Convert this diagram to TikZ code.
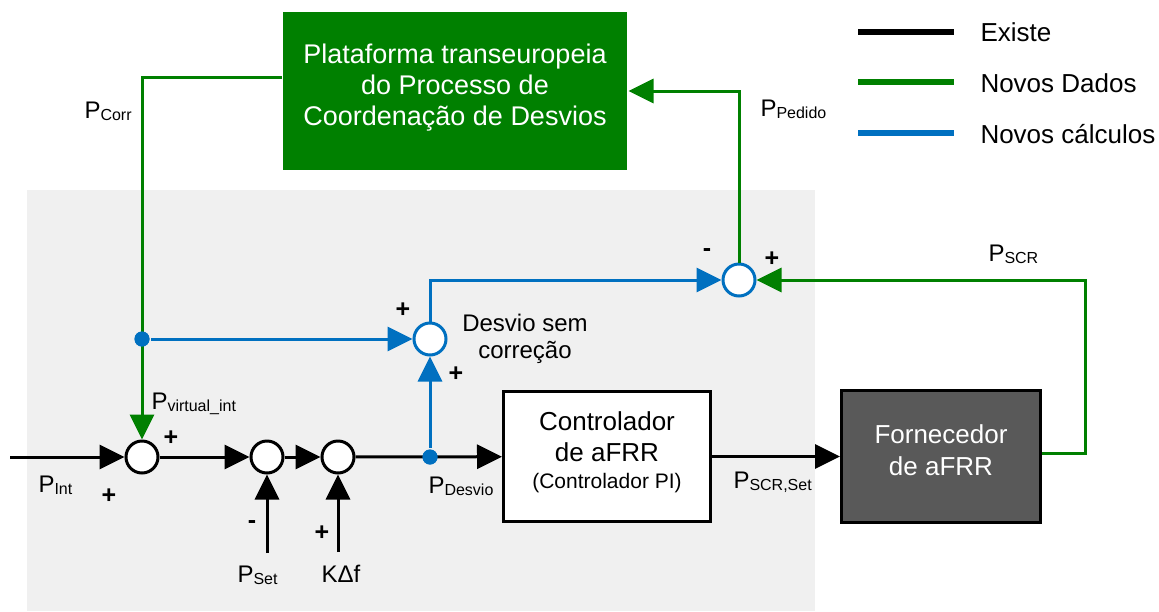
\documentclass[tikz,border=0pt]{standalone}
\usepackage{fontspec}
\setmainfont{Liberation Sans}
\usetikzlibrary{arrows.meta}
\definecolor{dgreen}{RGB}{0,128,0}
\definecolor{dblue}{RGB}{0,112,192}
\definecolor{bggray}{RGB}{240,240,240}
\definecolor{boxgray}{RGB}{89,89,89}
\newcommand\Plab[1]{P\raisebox{-2pt}{\fontsize{16}{16}\selectfont #1}}
\begin{document}
\begin{tikzpicture}[x=1pt,y=-1pt,
  line width=3pt,
  tip/.style={-{Triangle[length=25pt,width=24pt]}},
  sumblk/.style={circle,draw,fill=white,minimum size=32pt,inner sep=0pt,line width=3pt},
  lbl/.style={font=\fontsize{24}{24}\selectfont,inner sep=0pt,anchor=base west},
  sign/.style={font=\bfseries\fontsize{25}{25}\selectfont,inner sep=0pt},
  jdot/.style={circle,fill=dblue,minimum size=15pt,inner sep=0pt},
  legtxt/.style={font=\fontsize{26}{26}\selectfont,inner sep=0pt,anchor=base west},
  blk/.style={draw,line width=3pt,inner sep=0pt}
]
\useasboundingbox (0,0) rectangle (1159,611);
\fill[bggray] (27,190) rectangle (815,611);

% top green box
\node[fill=dgreen,minimum width=344pt,minimum height=158pt,inner sep=0pt] (plat) at (455,91) {};
\node[text=white,align=center,font=\fontsize{27}{31}\selectfont] (plattxt) at (455,88)
  {Plataforma transeuropeia\\do Processo de\\Coordenação de Desvios};

% blocks
\node[blk,fill=white,minimum width=207pt,minimum height=130pt] (ctrl) at (607,456.5) {};
\node[align=center,inner sep=0pt,font=\fontsize{26}{31}\selectfont] (ctrltxt) at (607,452)
  {Controlador\\de aFRR\\[-4pt]{\fontsize{21}{21}\selectfont (Controlador PI)}};
\node[blk,fill=boxgray,minimum width=199pt,minimum height=132pt] (forn) at (941,456.5) {};
\node[align=center,text=white,font=\fontsize{26}{32}\selectfont,inner sep=0pt] (forntxt) at (941,450)
  {Fornecedor\\de aFRR};

% summing junctions
\node[sumblk] (sum1) at (142,457) {};
\node[sumblk] (s2) at (267,457) {};
\node[sumblk] (s3) at (338,457) {};
\node[sumblk,draw=dblue] (sumD) at (430,339) {};
\node[sumblk,draw=dblue] (sumP) at (739,280) {};

% coordinates
\coordinate (in) at (10,457);
\coordinate (pset) at (267,553);
\coordinate (kdf) at (338,552);
\coordinate (rc) at (1085,280);

% black paths
\draw[tip] (in) -- (sum1);
\draw[tip] (sum1) -- (s2);
\draw[tip] (s2) -- (s3);
\draw[tip] (s3) -- (ctrl);
\draw[tip] (ctrl) -- (forn);
\draw[tip] (pset) -- (s2);
\draw[tip] (kdf) -- (s3);

% green paths
\draw[dgreen,tip] ([yshift=14pt]plat.west) -| (sum1);
\draw[dgreen,tip] ([yshift=3pt]forn.east) -| (rc) -- (sumP);
\draw[dgreen,tip] (sumP) |- (plat.east);

% blue paths
\node[jdot] (pc) at (142,339) {};
\node[jdot] (pd) at (430,457) {};
\draw[dblue,tip] (pc) -- (sumD);
\draw[dblue,tip] (pd) -- (sumD);
\draw[dblue,tip] (sumD) |- (sumP);
\node[jdot] at (142,339) {};
\node[jdot] at (430,457) {};

% labels
\node[lbl] (lcorr) at (83,118) {\Plab{Corr}};
\node[lbl] (lint) at (37,492) {\Plab{Int}};
\node[lbl] (lvirt) at (150,409) {\Plab{virtual\_int}};
\node[lbl] (lset) at (236,582) {\Plab{Set}};
\node[lbl] (lkdf) at (320,582) {KΔf};
\node[lbl] (ldesv) at (427,493) {\Plab{Desvio}};
\node[lbl] (lscrset) at (732,488) {\Plab{SCR,Set}};
\node[lbl] (lped) at (759,116) {\Plab{Pedido}};
\node[lbl] (lscr) at (987,261) {\Plab{SCR}};
\node[align=center,font=\fontsize{24}{27}\selectfont,inner sep=0pt] (ldsc) at (525,339) {Desvio sem\\correção};

% signs
\node[sign] at (707,253) {-};
\node[sign] at (772,259) {+};
\node[sign] at (403,310) {+};
\node[sign] at (456,374) {+};
\node[sign] at (171,438) {+};
\node[sign] at (109,496) {+};
\node[sign] at (252,525) {-};
\node[sign] at (322,533) {+};

% legend
\coordinate (la1) at (858,32); \coordinate (lb1) at (954,32);
\coordinate (la2) at (858,82); \coordinate (lb2) at (954,82);
\coordinate (la3) at (858,133); \coordinate (lb3) at (954,133);
\draw[line width=6pt,black] (la1) -- (lb1);
\draw[line width=6pt,dgreen] (la2) -- (lb2);
\draw[line width=6pt,dblue] (la3) -- (lb3);
\node[legtxt] (t1) at (979,41) {Existe};
\node[legtxt] (t2) at (979,92) {Novos Dados};
\node[legtxt] (t3) at (979,143) {Novos cálculos};
\end{tikzpicture}
\end{document}
